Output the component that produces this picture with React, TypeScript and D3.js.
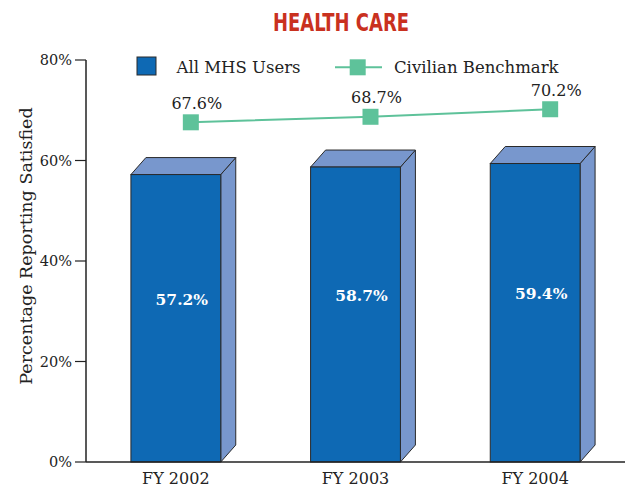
import React from "react";
import * as d3 from "d3";

const categories = ["FY 2002", "FY 2003", "FY 2004"];
const mhsValues = [57.2, 58.7, 59.4];
const benchmarkValues = [67.6, 68.7, 70.2];
const yTicks = [0, 20, 40, 60, 80];
const title = "HEALTH CARE";
const yLabel = "Percentage Reporting Satisfied";
const legendLabels = ["All MHS Users", "Civilian Benchmark"];

const W = 629;
const H = 487;
const X0 = 86;
const X1 = 625;
const Y0 = 462;
const Y1 = 60;
const DX = 15;
const DY = -17;
const SERIF = "'DejaVu Serif', 'Liberation Serif', serif";
const FRONT = "#0e69b4";
const SIDE = "#7897cd";
const GREEN = "#5ec29a";
const OUTLINE = "#2a2a2a";

export default function App() {
  const y = d3.scaleLinear().domain([0, 80]).range([Y0, Y1]);
  const x = d3
    .scaleBand<string>()
    .domain(categories)
    .range([X0, X1])
    .paddingInner(0.5)
    .paddingOuter(0.25);
  const bw = x.bandwidth();

  const pts = categories.map((c, i) => [
    (x(c) as number) + bw / 2 + DX,
    y(benchmarkValues[i]),
  ]) as [number, number][];
  const line = d3.line()(pts) as string;

  return (
    <svg
      width={W}
      height={H}
      style={{ position: "absolute", left: 0, top: 0, background: "#fff" }}
    >
      <text
        x={341}
        y={31}
        textAnchor="middle"
        fill="#c9311f"
        fontWeight="bold"
        fontSize={24}
        textLength={136}
        lengthAdjust="spacingAndGlyphs"
        fontFamily="'Liberation Sans Narrow', 'DejaVu Sans Condensed', sans-serif"
        style={{ fontStretch: "condensed" }}
      >
        {title}
      </text>

      {/* bars */}
      {categories.map((c, i) => {
        const xl = x(c) as number;
        const xr = xl + bw;
        const yt = y(mhsValues[i]);
        const top = `${xl},${yt} ${xl + DX},${yt + DY} ${xr + DX},${yt + DY} ${xr},${yt}`;
        const side = `${xr},${yt} ${xr + DX},${yt + DY} ${xr + DX},${Y0 + DY} ${xr},${Y0}`;
        return (
          <g key={c}>
            <polygon points={side} fill={SIDE} stroke={OUTLINE} strokeWidth={1} />
            <polygon points={top} fill={SIDE} stroke={OUTLINE} strokeWidth={1} />
            <rect
              x={xl}
              y={yt}
              width={bw}
              height={Y0 - yt}
              fill={FRONT}
              stroke={OUTLINE}
              strokeWidth={1}
            />
            <text
              x={xl + bw / 2 + 6}
              y={y(mhsValues[i] * 0.565)}
              textAnchor="middle"
              dominantBaseline="central"
              fill="#fff"
              fontWeight="bold"
              fontSize={15.5}
              fontFamily={SERIF}
            >
              {mhsValues[i].toFixed(1)}%
            </text>
          </g>
        );
      })}

      {/* axes */}
      <line x1={X0} x2={X0} y1={Y1} y2={Y0} stroke="#222" strokeWidth={1.5} />
      <line x1={X0} x2={X1} y1={Y0} y2={Y0} stroke="#222" strokeWidth={1.5} />
      {yTicks.map((t) => (
        <g key={t}>
          <line x1={75} x2={X0} y1={y(t)} y2={y(t)} stroke="#222" strokeWidth={1.2} />
          <text
            x={72}
            y={y(t)}
            textAnchor="end"
            dominantBaseline="central"
            fontSize={14.5}
            fontFamily={SERIF}
            fill="#222"
          >
            {t}%
          </text>
        </g>
      ))}
      {categories.map((c) => (
        <text
          key={c}
          x={(x(c) as number) + bw / 2}
          y={478}
          textAnchor="middle"
          dominantBaseline="central"
          fontSize={16}
          fontFamily={SERIF}
          fill="#222"
        >
          {c}
        </text>
      ))}
      <text
        transform={`translate(32, 246) rotate(-90)`}
        textAnchor="middle"
        fontSize={17.5}
        fontFamily={SERIF}
        fill="#222"
      >
        {yLabel}
      </text>

      {/* benchmark line */}
      <path d={line} fill="none" stroke={GREEN} strokeWidth={2} />
      {pts.map(([px, py], i) => (
        <g key={i}>
          <rect x={px - 8} y={py - 8} width={16} height={16} fill={GREEN} />
          <text
            x={px + 6}
            y={py - 19}
            textAnchor="middle"
            dominantBaseline="central"
            fontSize={16}
            fontFamily={SERIF}
            fill="#222"
          >
            {benchmarkValues[i].toFixed(1)}%
          </text>
        </g>
      ))}

      {/* legend */}
      <rect x={137} y={57} width={19} height={18} fill={FRONT} stroke={OUTLINE} strokeWidth={1} />
      <text x={176.5} y={73} fontSize={16.5} fontFamily={SERIF} fill="#222">
        {legendLabels[0]}
      </text>
      <line x1={335} x2={382} y1={67.3} y2={67.3} stroke={GREEN} strokeWidth={2} />
      <rect x={349.7} y={59.3} width={16} height={16} fill={GREEN} />
      <text x={394} y={73} fontSize={16.5} fontFamily={SERIF} fill="#222">
        {legendLabels[1]}
      </text>
    </svg>
  );
}
